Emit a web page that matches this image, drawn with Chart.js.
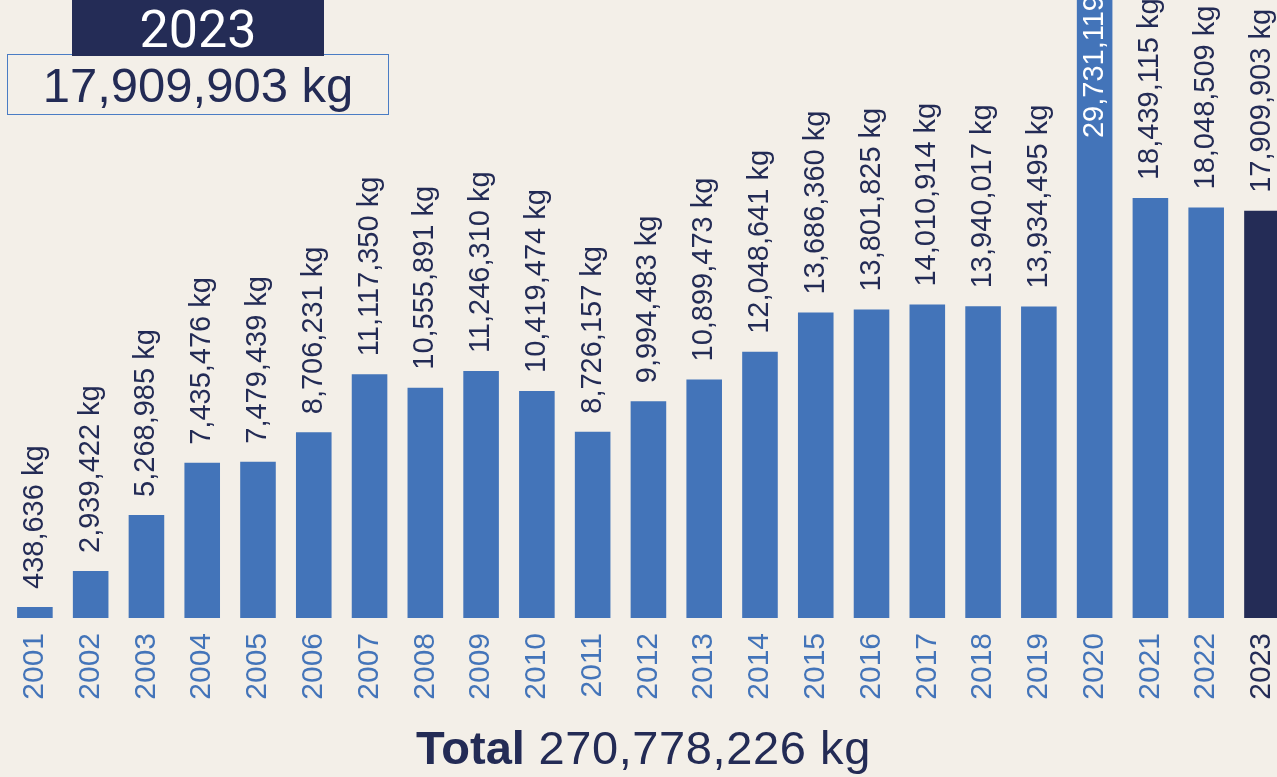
<!DOCTYPE html>
<html>
<head>
<meta charset="utf-8">
<script src="https://cdn.jsdelivr.net/npm/chart.js@4.4.0/dist/chart.umd.min.js"></script>
<style>
  body {
    margin: 0;
    width: 1277px;
    height: 777px;
    overflow: hidden;
    position: relative;
    background: #f3efe8;
    font-family: 'Liberation Sans', Arial, sans-serif;
  }
  #wrap { position: absolute; left: 0; top: 0; width: 1313px; height: 777px; }
  .value-box {
    position: absolute; left: 7px; top: 54px; width: 382px; height: 61px;
    box-sizing: border-box; border: 1px solid #4a7cc4;
    color: #232b55; font-size: 49px; line-height: 60px; text-align: center;
  }
  .year-box {
    position: absolute; left: 72px; top: 0; width: 252px; height: 56px;
    background: #242c56; color: #fff;
    font-family: Roboto, sans-serif; font-weight: 400; font-size: 52px; line-height: 60px; text-align: center;
  }
  .total {
    position: absolute; left: 5px; width: 1277px; top: 718px;
    color: #232b55; font-size: 47px; line-height: 60px; text-align: center; letter-spacing: 0.6px;
  }
  .total b { letter-spacing: 0; }
</style>
</head>
<body>
<div id="wrap"><canvas id="kgChart" width="1313" height="777"></canvas></div>
<div class="value-box">17,909,903 kg</div>
<div class="year-box">2023</div>
<div class="total"><b>Total</b> 270,778,226 kg</div>

<script>
// data
const years = ['2001', '2002', '2003', '2004', '2005', '2006', '2007', '2008', '2009', '2010', '2011', '2012',
  '2013', '2014', '2015', '2016', '2017', '2018', '2019', '2020', '2021', '2022', '2023'];
const weights = [438636, 2939422, 5268985, 7435476, 7479439, 8706231, 11117350, 10555891, 11246310, 10419474,
  8726157, 9994483, 10899473, 12048641, 13686360, 13801825, 14010914, 13940017, 13934495, 29731119,
  18439115, 18048509, 17909903];

const blue = '#4374b9';
const navy = '#242c56';
const lastIdx = years.length - 1;

// draws the rotated "x kg" text above each bar (inside when the bar runs off the top)
const valueLabels = {
  id: 'valueLabels',
  afterDatasetsDraw(chart) {
    const ctx = chart.ctx;
    const meta = chart.getDatasetMeta(0);
    const yMax = chart.scales.y.max;
    ctx.save();
    ctx.font = '29px "Liberation Sans", Arial, sans-serif';
    ctx.textBaseline = 'middle';
    meta.data.forEach((bar, i) => {
      const v = weights[i];
      const text = v.toLocaleString('en-US') + ' kg';
      const inside = v > yMax;
      ctx.save();
      if (inside) {
        ctx.translate(bar.x, bar.y + 30);
        ctx.textAlign = 'right';
        ctx.fillStyle = '#ffffff';
      } else {
        ctx.translate(bar.x, bar.y - 18);
        ctx.textAlign = 'left';
        ctx.fillStyle = '#232b55';
      }
      ctx.rotate(-Math.PI / 2);
      ctx.fillText(text, 0, 0);
      ctx.restore();
    });
    ctx.restore();
  }
};

const ctx = document.getElementById('kgChart').getContext('2d');

const kgChart = new Chart(ctx, {
  type: 'bar',
  data: {
    labels: years,
    datasets: [{
      data: weights,
      backgroundColor: years.map((y, i) => i === lastIdx ? navy : blue),
      borderWidth: 0,
      categoryPercentage: 1,
      barPercentage: 0.638,
      minBarLength: 11,
      clip: { left: false, top: false, right: false, bottom: 0 }
    }]
  },
  options: {
    responsive: false,
    animation: false,
    layout: { padding: { left: 7, right: 2, top: 0, bottom: 0 } },
    plugins: {
      legend: { display: false },
      tooltip: { enabled: false }
    },
    scales: {
      x: {
        grid: { display: false, drawTicks: false },
        border: { display: false },
        ticks: {
          autoSkip: false,
          maxRotation: 90,
          minRotation: 90,
          padding: 15,
          font: { family: '"Liberation Sans", Arial, sans-serif', size: 30 },
          color: (c) => c.index === lastIdx ? navy : blue
        },
        afterFit(scale) { scale.height = 159; }
      },
      y: {
        display: false,
        min: 985000,
        max: 26670000
      }
    }
  },
  plugins: [valueLabels]
});
</script>
</body>
</html>
